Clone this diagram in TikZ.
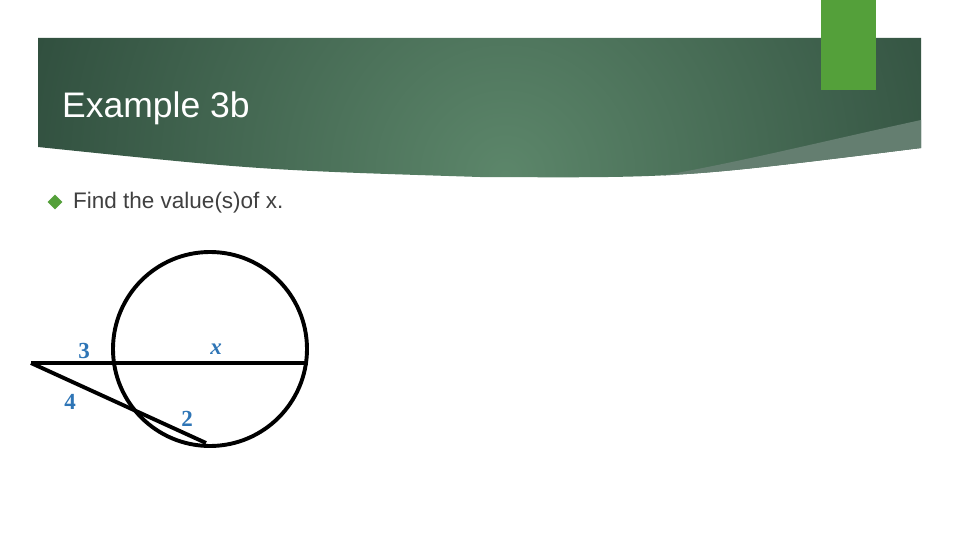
\documentclass[tikz,border=0pt]{standalone}
\usepackage{fontspec}
\setmainfont{Liberation Sans}
\newfontfamily\labelfont{Liberation Serif}
\usetikzlibrary{shapes.geometric}
\definecolor{bannerdark}{RGB}{46,76,60}
\definecolor{bannerlight}{RGB}{92,134,106}
\definecolor{bannerstrip}{RGB}{100,126,112}
\definecolor{tabgreen}{RGB}{84,160,58}
\definecolor{bodygrey}{RGB}{64,64,64}
\definecolor{labelblue}{RGB}{46,117,182}

\begin{document}
\begin{tikzpicture}[x=1pt,y=-1pt,
    seg/.style={line width=3.9pt,black},
    lbl/.style={text=labelblue,font=\labelfont\bfseries\fontsize{23}{23}\selectfont,inner sep=0pt}
  ]
  \useasboundingbox[fill=white] (0,0) rectangle (960,540);
  % Banner
  \begin{scope}
    \clip (38,38) -- (921,38) -- (921,148) .. controls (680,178) .. (480,177)
      .. controls (260,170) .. (38,147) -- cycle;
    \shade[inner color=bannerlight,outer color=bannerdark] (505,175) circle (520);
    \fill[bannerstrip] (921,120) .. controls (820,142) and (740,162) .. (660,176)
      -- (921,176) -- cycle;
  \end{scope}
  \fill[tabgreen] (821,0) rectangle (876,90);
  % Title and text
  \node[anchor=base west,text=white,font=\fontsize{35.5}{35.5}\selectfont,inner sep=0pt]
    (title) at (62,118) {Example 3b};
  \node[diamond,fill=tabgreen,inner sep=0pt,minimum size=15pt] (bullet) at (55,202) {};
  \node[anchor=west,text=bodygrey,font=\fontsize{22.5}{22.5}\selectfont,inner sep=0pt]
    (task) at (73,203) {Find the value(s)of x.};
  % Circle and secants
  \node[draw,seg,circle,minimum size=194pt,inner sep=0pt] (circ) at (210,349) {};
  \coordinate (P) at (31,363);
  \coordinate (A) at (308,363);
  \coordinate (B) at (206,443);
  \draw[seg] (P) -- (A);
  \draw[seg] (P) -- (B);
  % Lengths
  \node[lbl] (l3) at (84,351) {3};
  \node[lbl] (lx) at (216,349) {\itshape x};
  \node[lbl] (l4) at (70,402) {4};
  \node[lbl] (l2) at (187,419) {2};
\end{tikzpicture}
\end{document}
